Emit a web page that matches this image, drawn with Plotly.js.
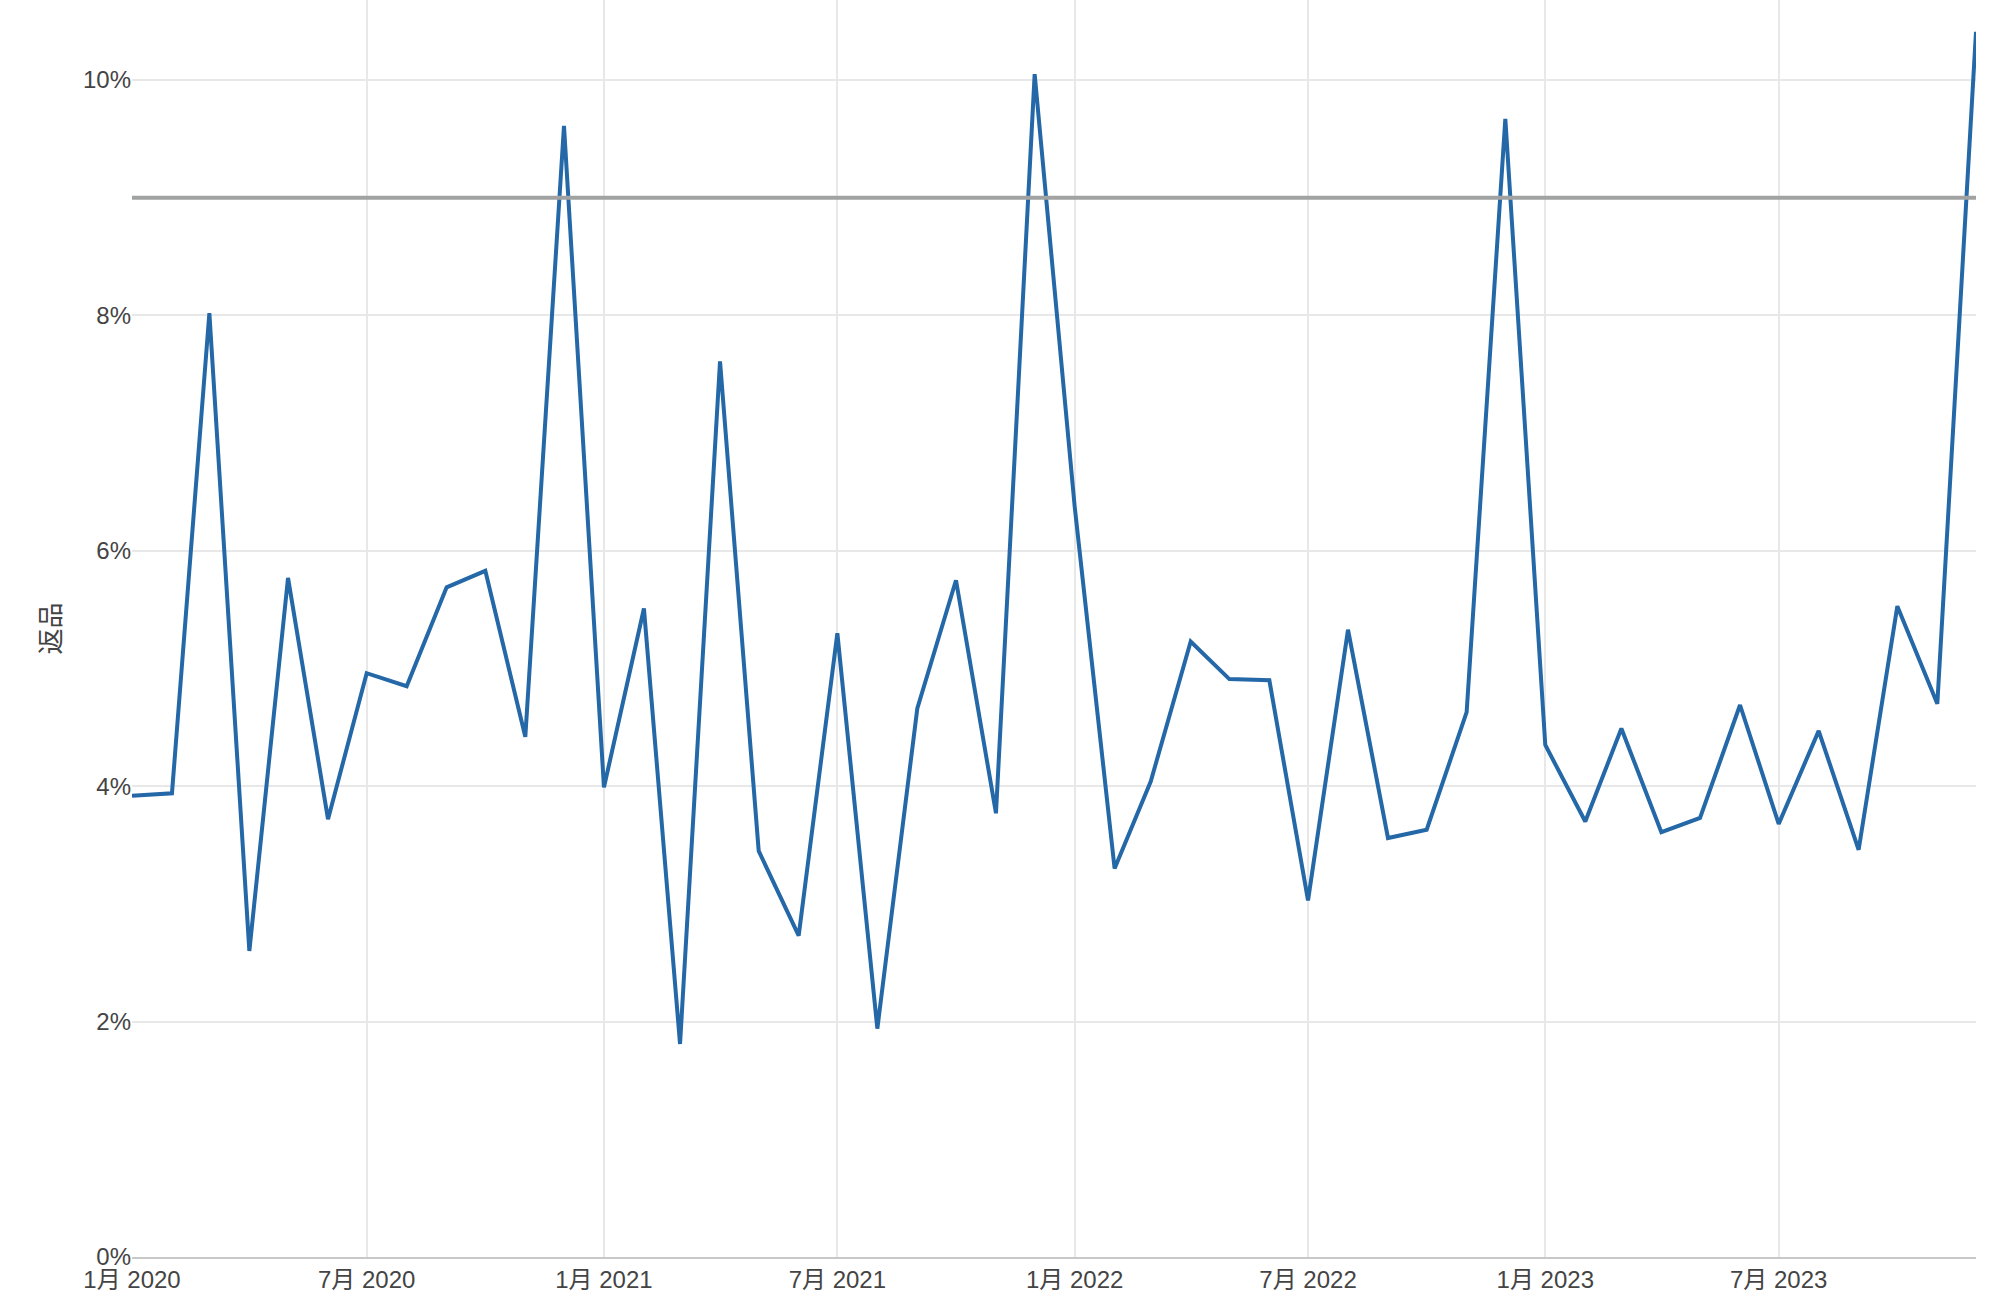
<!DOCTYPE html>
<html>
<head>
<meta charset="utf-8">
<script src="https://cdn.plot.ly/plotly-3.0.1.min.js"></script>
<style>
  html, body { margin: 0; padding: 0; background: #fff; }
  #chart { width: 2008px; height: 1310px; }
</style>
</head>
<body>
<div id="chart"></div>
<script>
// Monthly dates (first of month), Jan 2020 – Dec 2023
const months = [
  '2020-01-01','2020-02-01','2020-03-01','2020-04-01','2020-05-01','2020-06-01',
  '2020-07-01','2020-08-01','2020-09-01','2020-10-01','2020-11-01','2020-12-01',
  '2021-01-01','2021-02-01','2021-03-01','2021-04-01','2021-05-01','2021-06-01',
  '2021-07-01','2021-08-01','2021-09-01','2021-10-01','2021-11-01','2021-12-01',
  '2022-01-01','2022-02-01','2022-03-01','2022-04-01','2022-05-01','2022-06-01',
  '2022-07-01','2022-08-01','2022-09-01','2022-10-01','2022-11-01','2022-12-01',
  '2023-01-01','2023-02-01','2023-03-01','2023-04-01','2023-05-01','2023-06-01',
  '2023-07-01','2023-08-01','2023-09-01','2023-10-01','2023-11-01','2023-12-01'
];

// 返品 rate (%) per month
const returnRate = [
  3.92, 3.94, 8.02, 2.60, 5.77, 3.72, 4.96, 4.85, 5.69, 5.83, 4.42, 9.61,
  3.99, 5.51, 1.81, 7.61, 3.45, 2.73, 5.30, 1.94, 4.66, 5.75, 3.77, 10.05,
  6.38, 3.30, 4.04, 5.23, 4.91, 4.90, 3.03, 5.33, 3.56, 3.63, 4.63, 9.67,
  4.35, 3.70, 4.49, 3.61, 3.73, 4.69, 3.68, 4.47, 3.46, 5.53, 4.70, 10.41
];

// Reference threshold (%)
const threshold = 9;

const yTitle = '返品';
const xTickFormat = '%-m月 %Y';

const fontFamily = '"Liberation Sans", Arial, "Noto Sans CJK JP", sans-serif';

const trace = {
  x: months,
  y: returnRate,
  type: 'scatter',
  mode: 'lines',
  line: { color: '#2468a8', width: 4 },
  hoverinfo: 'x+y',
  showlegend: false
};

const layout = {
  width: 2008,
  height: 1310,
  margin: { l: 132, r: 32, t: 0, b: 53 },
  paper_bgcolor: '#ffffff',
  plot_bgcolor: '#ffffff',
  font: { family: fontFamily, size: 24, color: '#444444' },
  showlegend: false,
  xaxis: {
    type: 'date',
    tickformat: xTickFormat,
    dtick: 'M6',
    tick0: '2020-01-01',
    showgrid: true,
    gridcolor: '#e8e8e8',
    gridwidth: 2,
    zeroline: false,
    showline: true,
    linecolor: '#c8c8c8',
    linewidth: 2,
    ticks: '',
    tickfont: { family: fontFamily, size: 24, color: '#444444' }
  },
  yaxis: {
    range: [0, 10.68],
    dtick: 2,
    ticksuffix: '%',
    showgrid: true,
    gridcolor: '#e8e8e8',
    gridwidth: 2,
    zeroline: false,
    showline: false,
    ticks: '',
    tickfont: { family: fontFamily, size: 24, color: '#444444' },
    title: { text: yTitle, font: { family: fontFamily, size: 26, color: '#444444' }, standoff: 14 }
  },
  shapes: [{
    type: 'line',
    xref: 'paper', x0: 0, x1: 1,
    yref: 'y', y0: threshold, y1: threshold,
    line: { color: '#a0a3a1', width: 4 },
    layer: 'above'
  }]
};

Plotly.newPlot('chart', [trace], layout, { displayModeBar: false, staticPlot: true });
</script>
</body>
</html>
